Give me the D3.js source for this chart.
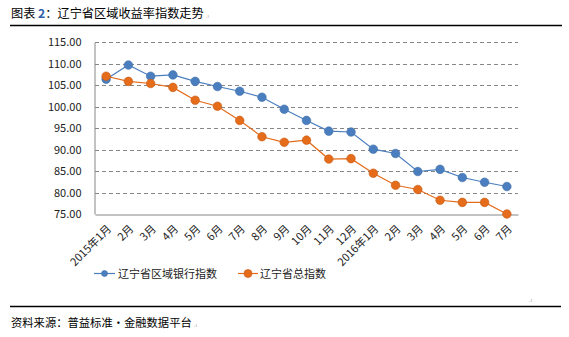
<!DOCTYPE html>
<html>
<head>
<meta charset="utf-8">
<script src="https://cdn.jsdelivr.net/npm/d3@7"></script>
<style>
  html, body { margin: 0; padding: 0; background: #fff; }
  svg { display: block; }
  text { font-family: "Noto Sans CJK SC", "Noto Sans", sans-serif; }
</style>
</head>
<body>
<svg id="chart" width="569" height="337"></svg>
<script>
// Month labels along the category axis
const months = ["2015年1月", "2月", "3月", "4月", "5月", "6月", "7月", "8月", "9月", "10月",
  "11月", "12月", "2016年1月", "2月", "3月", "4月", "5月", "6月", "7月"];

// 辽宁省区域银行指数
const bankIndex = [106.4, 109.7, 107.1, 107.4, 105.9, 104.7, 103.6, 102.2, 99.4, 96.8,
  94.3, 94.1, 90.1, 89.1, 84.9, 85.4, 83.5, 82.4, 81.4];

// 辽宁省总指数
const totalIndex = [107.1, 105.9, 105.4, 104.5, 101.5, 100.1, 96.8, 93.0, 91.7, 92.2,
  87.8, 87.9, 84.5, 81.7, 80.7, 78.2, 77.7, 77.7, 75.0];

const yTicks = [75, 80, 85, 90, 95, 100, 105, 110, 115];

const seriesNames = ["辽宁省区域银行指数", "辽宁省总指数"];
const colors = ["#4a7ebf", "#e46c1a"];
const strokeDark = ["#3f6fa8", "#c85a14"];

const svg = d3.select("#chart");

// Small paragraph mark placed just after a text element
function paraMark(textSel, dy) {
  const node = textSel.node();
  const bb = node.getBBox();
  svg.append("text").attr("x", bb.x + bb.width + 2).attr("y", +textSel.attr("y") + (dy || 0))
    .attr("font-size", 6).attr("fill", "#aaa").text(".ı");
}

// Header: title and rule
const title = svg.append("text")
  .attr("x", 11).attr("y", 18)
  .attr("font-size", 12.2).attr("fill", "#000");
title.append("tspan").text("图表 ");
title.append("tspan").attr("fill", "#2e5fa8").attr("font-weight", "bold").text("2");
title.append("tspan").text("：辽宁省区域收益率指数走势");
paraMark(title);

svg.append("line").attr("x1", 10).attr("x2", 562).attr("y1", 25.5).attr("y2", 25.5)
  .attr("stroke", "#000").attr("stroke-width", 1.3);

// Plot area
const plotLeft = 95, plotRight = 518, plotTop = 42.3, plotBottom = 214;

const x = d3.scaleBand().domain(months.map((m, i) => i)).range([plotLeft, plotRight]);
const cx = i => x(i) + x.bandwidth() / 2;
const y = d3.scaleLinear().domain([75, 115]).range([plotBottom, plotTop]);

// Dashed gridlines
svg.append("g").selectAll("line").data(yTicks.filter(t => t > 75)).join("line")
  .attr("x1", plotLeft).attr("x2", plotRight)
  .attr("y1", d => Math.round(y(d)) + 0.5).attr("y2", d => Math.round(y(d)) + 0.5)
  .attr("stroke", "#868686").attr("stroke-dasharray", "4,3").attr("stroke-width", 1);

// Y axis
const yAxis = d3.axisLeft(y).tickValues(yTicks).tickFormat(d3.format(".2f")).tickSize(0).tickPadding(13);
const gy = svg.append("g").attr("transform", `translate(${plotLeft - 0.5},0)`).call(yAxis);
gy.select(".domain").attr("stroke", "#868686");
gy.selectAll("text").attr("font-size", 11).attr("fill", "#222").attr("font-family", "Liberation Sans, Arial, sans-serif");

// X axis
const xAxis = d3.axisBottom(x).tickFormat(i => months[i]).tickSize(0).tickPadding(0);
const gx = svg.append("g").attr("transform", `translate(0,${Math.round(plotBottom) + 0.5})`).call(xAxis);
gx.select(".domain").attr("stroke", "#868686");
gx.selectAll("text")
  .attr("font-size", 11).attr("fill", "#222")
  .attr("text-anchor", "end")
  .attr("dy", 0)
  .attr("transform", "translate(6,15) rotate(-45)");

// Series lines and markers
const line = d3.line().x((d, i) => cx(i)).y(d => y(d));
[bankIndex, totalIndex].forEach((vals, k) => {
  svg.append("path").datum(vals)
    .attr("d", line).attr("fill", "none")
    .attr("stroke", colors[k]).attr("stroke-width", 1.2);
  svg.append("g").selectAll("circle").data(vals).join("circle")
    .attr("cx", (d, i) => cx(i)).attr("cy", d => y(d)).attr("r", 4.3)
    .attr("fill", colors[k]).attr("stroke", strokeDark[k]).attr("stroke-width", 0.6);
});

// Legend
const legendItems = [
  { x0: 94, x1: 115, tx: 118 },
  { x0: 238, x1: 258, tx: 260 }
];
const ly = 273.5;
legendItems.forEach((it, k) => {
  const g = svg.append("g");
  g.append("line").attr("x1", it.x0).attr("x2", it.x1).attr("y1", ly).attr("y2", ly)
    .attr("stroke", colors[k]).attr("stroke-width", 1.2);
  g.append("circle").attr("cx", (it.x0 + it.x1) / 2).attr("cy", ly).attr("r", k === 0 ? 3 : 4)
    .attr("fill", colors[k]).attr("stroke", strokeDark[k]).attr("stroke-width", 0.6);
  g.append("text").attr("x", it.tx).attr("y", ly + 4).attr("font-size", 11).attr("fill", "#222")
    .text(seriesNames[k]);
});

// Footer rule and source
svg.append("text").attr("x", 529).attr("y", 302).attr("font-size", 6).attr("fill", "#aaa").text(".ı");
svg.append("line").attr("x1", 10).attr("x2", 561).attr("y1", 306.5).attr("y2", 306.5)
  .attr("stroke", "#000").attr("stroke-width", 1.3);
const source = svg.append("text").attr("x", 11).attr("y", 327).attr("font-size", 11.3).attr("fill", "#000")
  .text("资料来源：普益标准・金融数据平台");
paraMark(source);
</script>
</body>
</html>
